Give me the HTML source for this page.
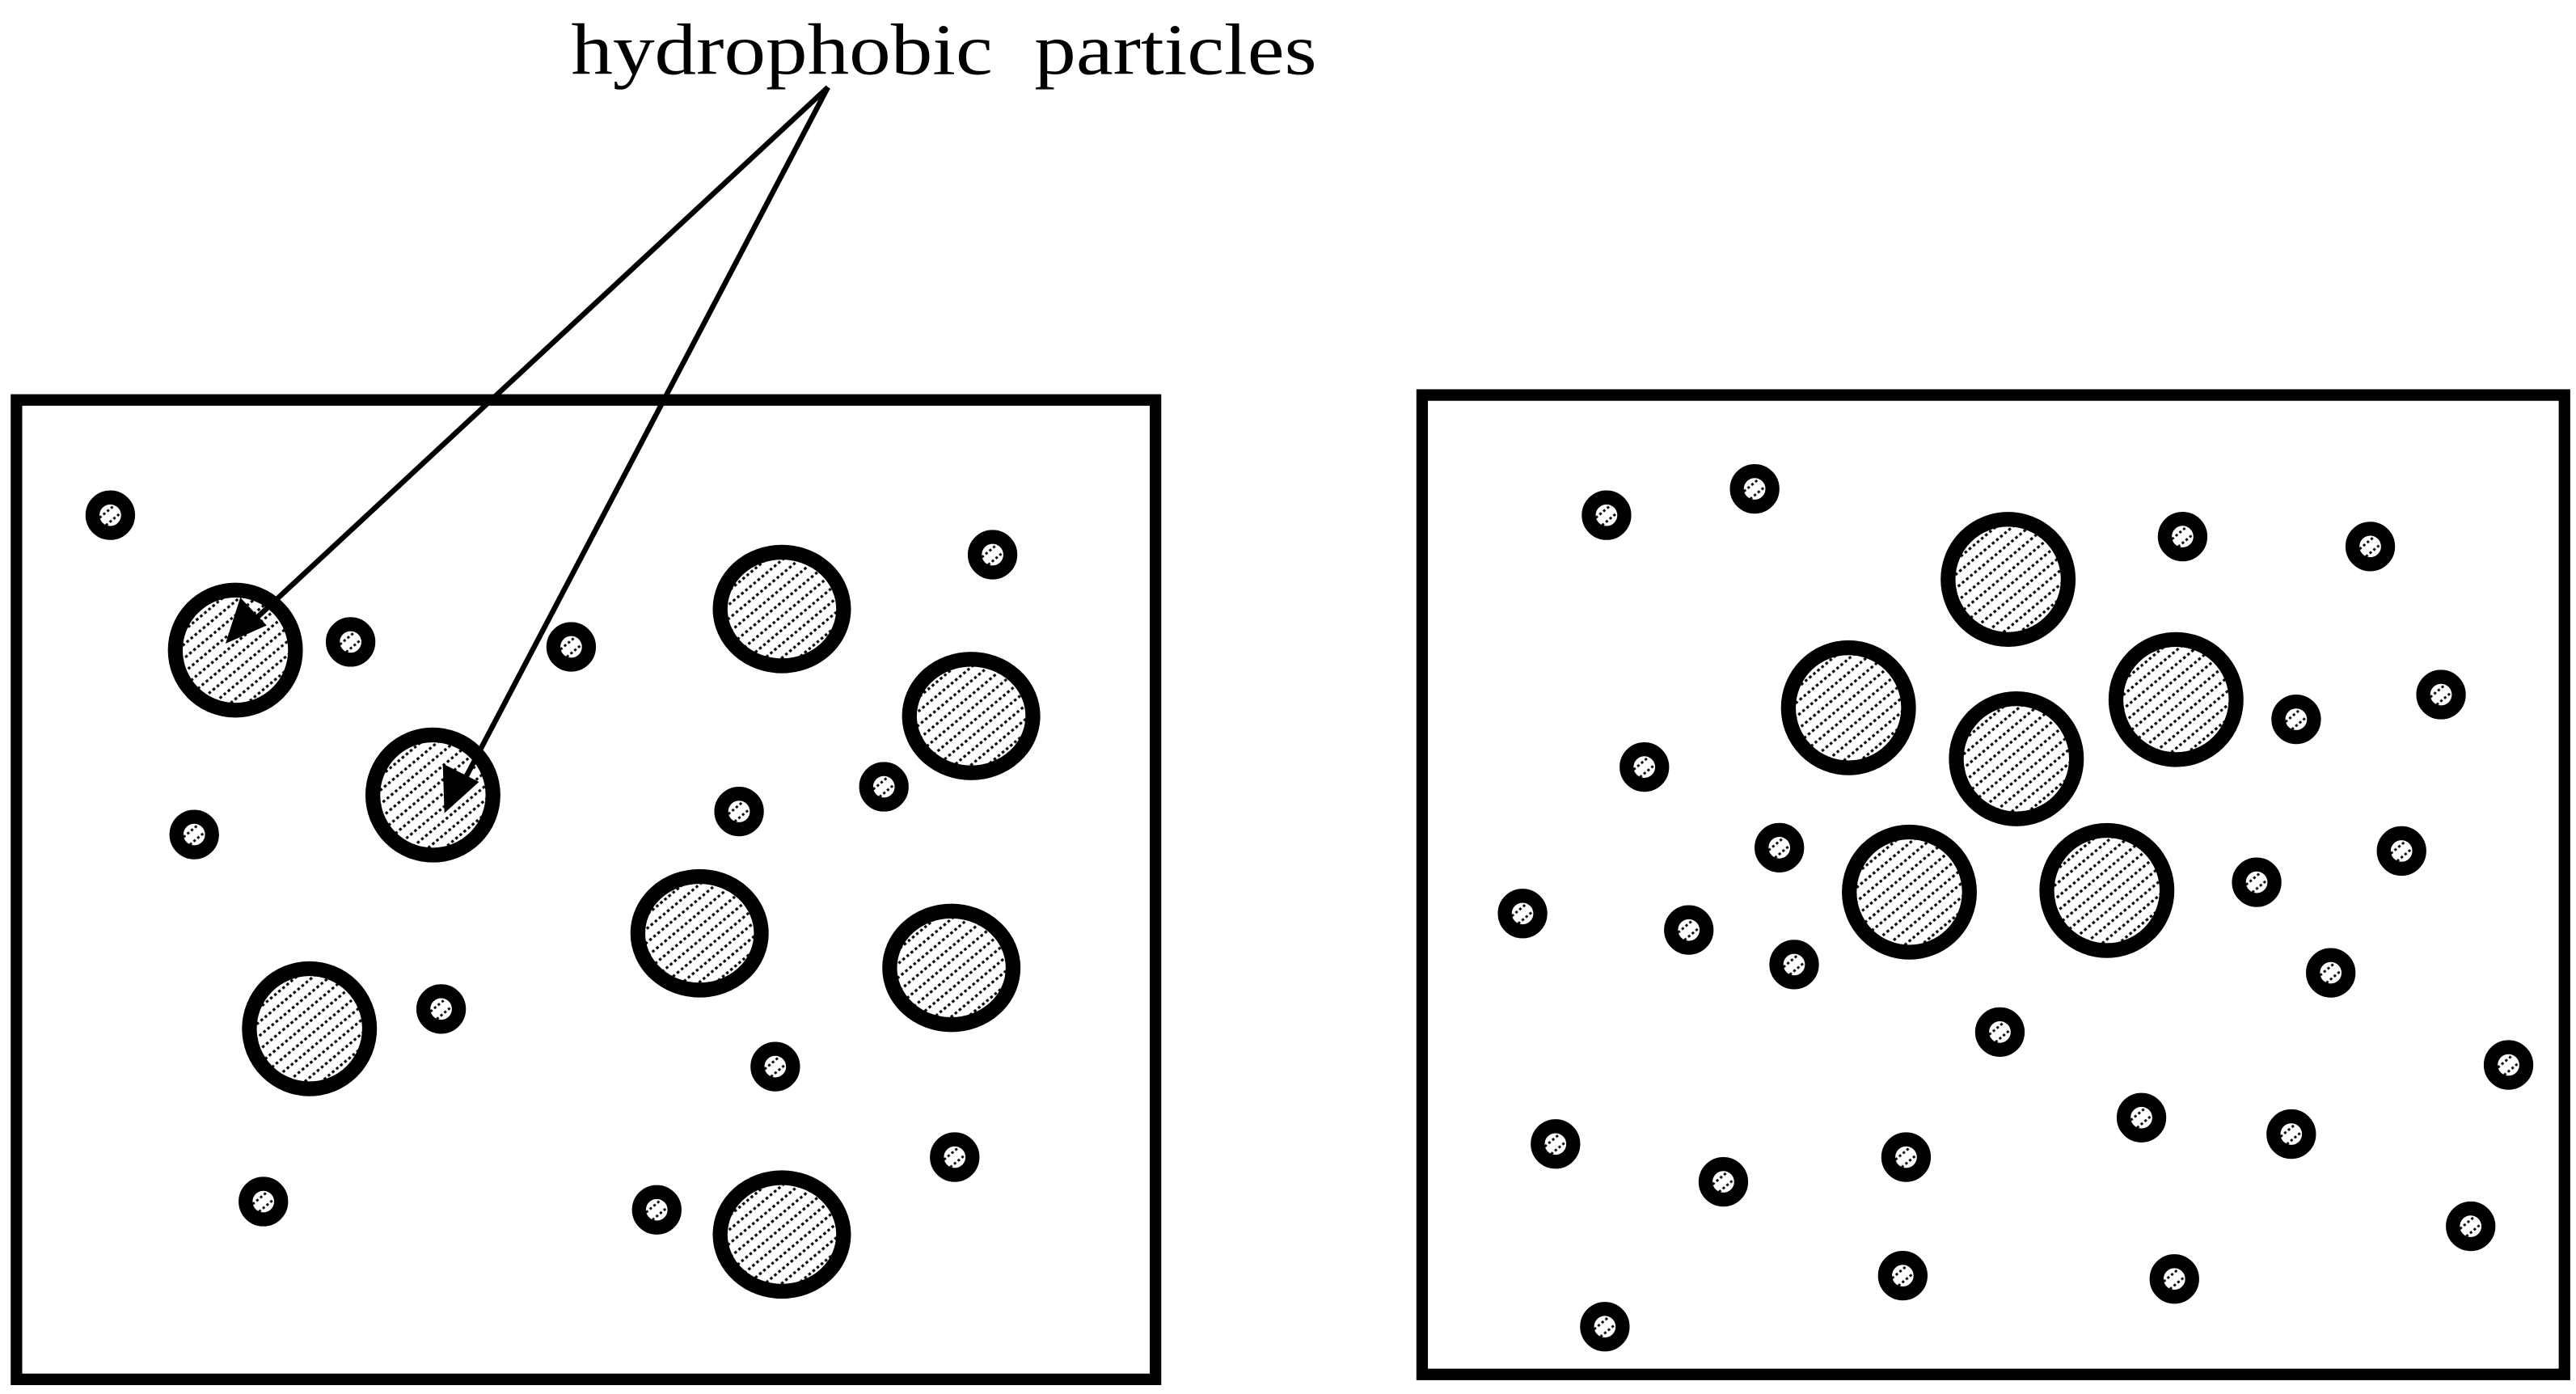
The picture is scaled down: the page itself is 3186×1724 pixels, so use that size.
<!DOCTYPE html>
<html><head><meta charset="utf-8"><style>
html,body{margin:0;padding:0;background:#fff;width:3186px;height:1724px;overflow:hidden}
svg{display:block}
</style></head><body>
<svg width="3186" height="1724" viewBox="0 0 1565 846.9" preserveAspectRatio="none" xmlns="http://www.w3.org/2000/svg">
<defs>
<pattern id="h" width="6.5" height="6.5" patternUnits="userSpaceOnUse" patternTransform="rotate(-40)">
<rect width="6.5" height="6.5" fill="#fff"/>
<line x1="0" y1="3.25" x2="6.5" y2="3.25" stroke="#000" stroke-width="1.6" stroke-dasharray="1.6 1.6"/>
</pattern>
<pattern id="hs" width="6" height="6" patternUnits="userSpaceOnUse" patternTransform="rotate(-40)">
<rect width="6" height="6" fill="#fff"/>
<line x1="0" y1="3" x2="6" y2="3" stroke="#000" stroke-width="1.5" stroke-dasharray="1.5 1.5"/>
</pattern>
<symbol id="B" overflow="visible"><circle cx="0" cy="0" r="36.5" fill="url(#h)" stroke="#000" stroke-width="9"/></symbol>
<symbol id="E" overflow="visible"><ellipse cx="0" cy="0" rx="37.5" ry="34.5" fill="url(#h)" stroke="#000" stroke-width="9"/></symbol>
<symbol id="S" overflow="visible"><circle cx="0" cy="0" r="10.8" fill="url(#hs)" stroke="#000" stroke-width="8.5"/></symbol>
</defs>
<rect x="0" y="0" width="1565" height="847" fill="#fff"/>
<text x="347" y="45" style="font-family:'Liberation Serif',serif" font-size="44" textLength="453" lengthAdjust="spacingAndGlyphs" xml:space="preserve">hydrophobic  particles</text>
<rect x="10" y="243" width="692" height="595" fill="none" stroke="#000" stroke-width="7"/>
<rect x="864" y="240" width="694" height="595" fill="none" stroke="#000" stroke-width="7"/>

<g fill="none">
<use href="#B" x="143" y="395"/><use href="#B" x="263" y="483"/><use href="#E" x="475" y="370"/>
<use href="#E" x="590" y="435"/><use href="#E" x="425" y="567"/><use href="#E" x="578" y="588"/>
<use href="#B" x="188" y="625"/><use href="#E" x="475" y="750"/>
<use href="#S" x="67" y="313"/><use href="#S" x="213" y="390"/><use href="#S" x="347" y="393"/>
<use href="#S" x="603" y="337"/><use href="#S" x="118" y="507"/><use href="#S" x="449" y="493"/>
<use href="#S" x="537" y="478"/><use href="#S" x="268" y="613"/><use href="#S" x="471" y="648"/>
<use href="#S" x="160" y="730"/><use href="#S" x="399" y="735"/><use href="#S" x="580" y="703"/>
<use href="#B" x="1220" y="352"/><use href="#B" x="1123" y="430"/><use href="#B" x="1322" y="425"/>
<use href="#B" x="1225" y="461"/><use href="#B" x="1160" y="542"/><use href="#B" x="1280" y="541"/>
<use href="#S" x="976" y="313"/><use href="#S" x="1066" y="297"/><use href="#S" x="1326" y="326"/>
<use href="#S" x="1440" y="332"/><use href="#S" x="1483" y="422"/><use href="#S" x="1395" y="437"/>
<use href="#S" x="999" y="466"/><use href="#S" x="1081" y="515"/><use href="#S" x="1459" y="517"/>
<use href="#S" x="925" y="555"/><use href="#S" x="1026" y="565"/><use href="#S" x="1090" y="586"/>
<use href="#S" x="1371" y="536"/><use href="#S" x="1416" y="591"/><use href="#S" x="1215" y="627"/>
<use href="#S" x="1524" y="647"/><use href="#S" x="945" y="695"/><use href="#S" x="1047" y="718"/>
<use href="#S" x="1158" y="703"/><use href="#S" x="1301" y="679"/><use href="#S" x="1392" y="689"/>
<use href="#S" x="1501" y="745"/><use href="#S" x="1156" y="775"/><use href="#S" x="1321" y="777"/>
<use href="#S" x="975" y="806"/>
</g>

<line x1="503" y1="53" x2="152" y2="379" stroke="#000" stroke-width="3.2"/>
<polygon points="137,391 146,363 162,380" fill="#000"/>
<line x1="503" y1="53" x2="281" y2="476" stroke="#000" stroke-width="3.2"/>
<polygon points="270,494 269,464 291,475" fill="#000"/>
</svg>
</body></html>
